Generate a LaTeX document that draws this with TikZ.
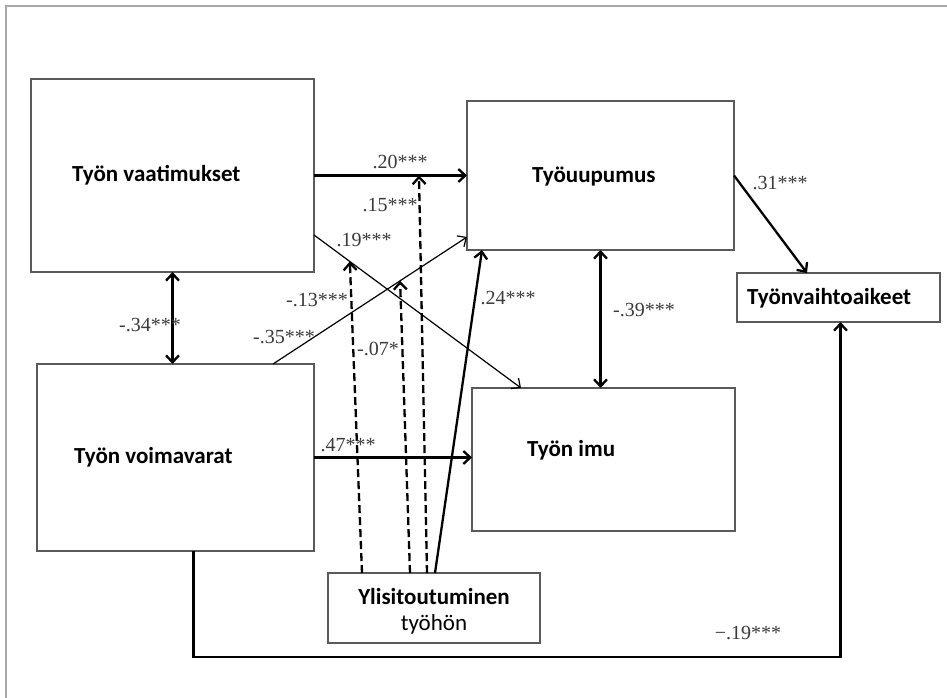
\documentclass[tikz,border=0pt]{standalone}
\usepackage{fontspec}
\setmainfont{Liberation Serif}
\newfontfamily\boxfont{Carlito}
\usetikzlibrary{arrows.meta,calc}
\definecolor{boxgray}{HTML}{5A5A5A}
\definecolor{framegray}{HTML}{A8A8A8}
\definecolor{lblgray}{HTML}{3A3A3A}
\begin{document}
\begin{tikzpicture}[x=1pt,y=-1pt,
  box/.style={draw=boxgray,line width=1.4pt,inner sep=0pt,outer sep=0pt,fill=white},
  btext/.style={font=\boxfont\bfseries\fontsize{23}{27}\selectfont,anchor=west,inner sep=0pt},
  lbl/.style={font=\fontsize{20}{24}\selectfont,text=lblgray,inner sep=0pt},
  tip/.tip={Straight Barb[length=7pt,width=13pt]},
  arr/.style={line width=2.3pt,-tip},
  darr/.style={line width=2.3pt,tip-tip},
  thinarr/.style={line width=1.2pt,-tip},
  dsh/.style={arr,dash pattern=on 8pt off 4pt}]
\useasboundingbox (0,0) rectangle (947,698);
\fill[white] (0,0) rectangle (947,698);
\draw[framegray,line width=1.5pt] (947,6) -- (6,6) -- (6,698);

% boxes
\node[box,minimum width=283pt,minimum height=193pt] (vaat) at (172.5,175.5) {};
\node[box,minimum width=277pt,minimum height=187pt] (voim) at (175.5,457.5) {};
\node[box,minimum width=267pt,minimum height=149pt] (uup) at (600.5,175.5) {};
\node[box,minimum width=263pt,minimum height=143pt] (imu) at (603.5,459.5) {};
\node[box,minimum width=203pt,minimum height=49pt] (vaiht) at (838.5,297.5) {};
\node[box,minimum width=212pt,minimum height=70pt] (ylis) at (434,608) {};

% box texts
\node[btext] (tvaat) at (72,175) {Työn vaatimukset};
\node[btext] (tvoim) at (74,457) {Työn voimavarat};
\node[btext] (tuup) at (532,177) {Työuupumus};
\node[btext] (timu) at (527,450) {Työn imu};
\node[btext] (tvaiht) at (747,298) {Työnvaihtoaikeet};
\node[font=\boxfont\bfseries\fontsize{23}{27}\selectfont,inner sep=0pt] (tylis1) at (434,597) {Ylisitoutuminen};
\node[font=\boxfont\fontsize{23}{27}\selectfont,inner sep=0pt] (tylis2) at (434,624) {työhön};

% helper coordinates
\coordinate (a20e) at (vaat.east -| uup.west);
\coordinate (c1s) at ($(vaat.south east)+(0,-37)$);
\coordinate (c1e) at ($(imu.north west)+(49,0)$);
\coordinate (c2s) at ($(voim.north west)+(236,0)$);
\coordinate (c2e) at ($(uup.south west)+(0,-13)$);
\coordinate (m20) at ($(vaat.east)!0.686!(a20e)$);
\coordinate (m19) at ($(c1s)!0.173!(c1e)$);
\coordinate (m07) at ($(c2s)!0.655!(c2e)$);

% main paths
\draw[arr] (vaat.east) -- (a20e);
\draw[arr] (voim.east) -- (voim.east -| imu.west);
\draw[darr] (vaat.south) -- (vaat.south |- voim.north);
\draw[darr] (uup.south) -- (uup.south |- imu.north);
\draw[thinarr] (c1s) -- (c1e);
\draw[thinarr] (c2s) -- (c2e);
\draw[arr] (uup.east) -- ($(vaiht.north west)+(70,0)$);
\draw[arr] ($(voim.south)+(18,0)$) -- ++(0,106) -| ($(vaiht.south)+(2,0)$);

% moderation paths from Ylisitoutuminen
\draw[dsh] ($(ylis.north west)+(99,0)$) -- (m20);
\draw[dsh] ($(ylis.north west)+(34,0)$) -- (m19);
\draw[dsh] ($(ylis.north west)+(82,0)$) -- (m07);
\draw[arr] ($(ylis.north west)+(107,0)$) -- ($(uup.south west)+(15,0)$);

% labels
\node[lbl] (l20) at (400,162) {.20***};
\node[lbl] (l15) at (390,205) {.15***};
\node[lbl] (l19) at (364,240) {.19***};
\node[lbl] (l13) at (317,300) {-.13***};
\node[lbl] (l35) at (284,337) {-.35***};
\node[lbl] (l07) at (378,349) {-.07*};
\node[lbl] (l24) at (508,298) {.24***};
\node[lbl] (l47) at (348,445) {.47***};
\node[lbl] (l34) at (150,325) {-.34***};
\node[lbl] (l39) at (644,310) {-.39***};
\node[lbl] (l31) at (780,183) {.31***};
\node[lbl] (l19b) at (748,633) {−.19***};
\end{tikzpicture}
\end{document}
